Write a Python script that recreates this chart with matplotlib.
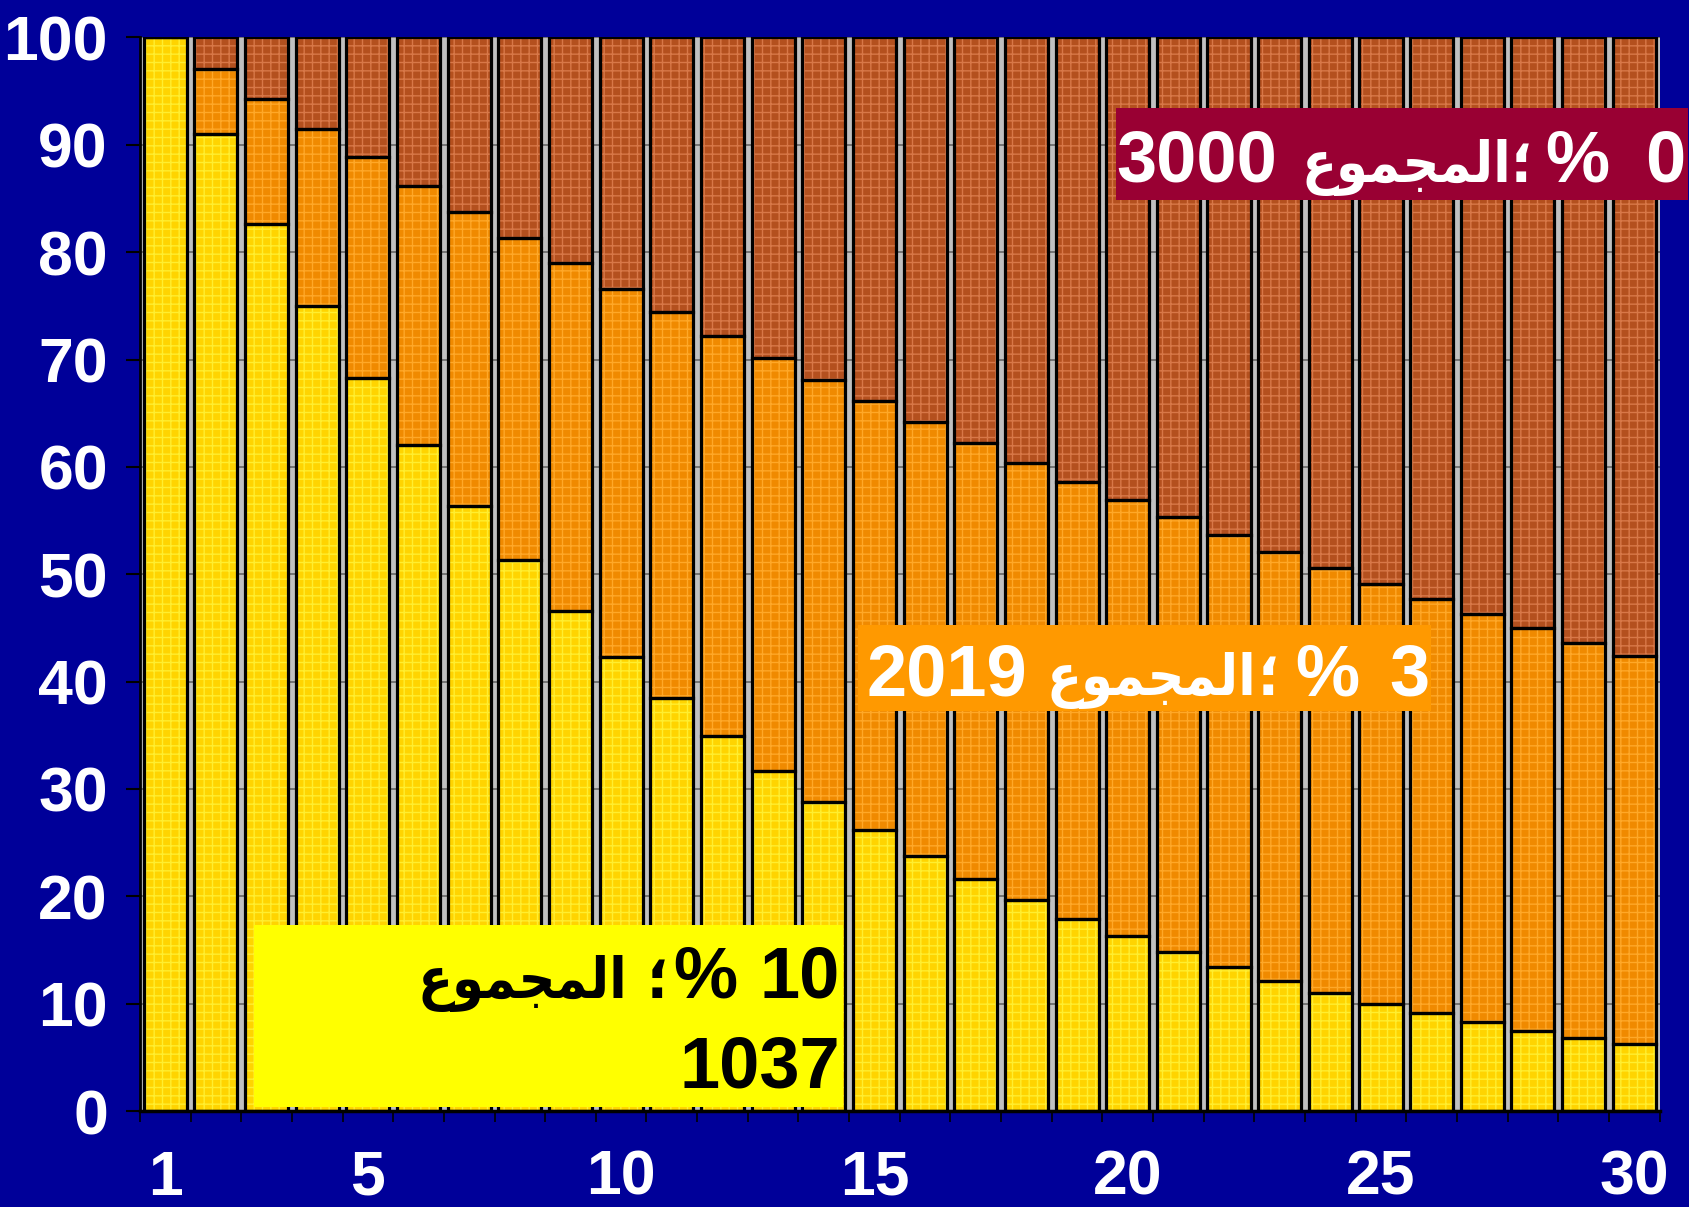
import matplotlib
matplotlib.use("Agg")
import matplotlib.pyplot as plt
from matplotlib.patches import Rectangle
import numpy as np

# ---- data ----
categories = list(range(1, 31))
yellow_top = [100, 91.0, 82.6, 75.0, 68.3, 62.0, 56.4, 51.3, 46.6, 42.3,
              38.5, 34.9, 31.7, 28.8, 26.2, 23.8, 21.6, 19.7, 17.9, 16.3,
              14.8, 13.4, 12.1, 11.0, 10.0, 9.1, 8.3, 7.5, 6.8, 6.2]
orange_top = [100, 97.1, 94.3, 91.5, 88.9, 86.2, 83.7, 81.3, 79.0, 76.6,
              74.4, 72.2, 70.1, 68.1, 66.1, 64.2, 62.2, 60.4, 58.6, 56.9,
              55.3, 53.7, 52.1, 50.6, 49.1, 47.7, 46.3, 45.0, 43.6, 42.4]
total = 100
xtick_labels = [1, 5, 10, 15, 20, 25, 30]
ytick_values = list(range(0, 101, 10))

# Arabic word "المجموع" in presentation forms, visual (left-to-right) order
word = "\uFEC9\uFEEE\uFEE4\uFEA0\uFEE4\uFEDF\uFE8D"
semi = "\u061B"
label_brown = ["3000", word, semi, "%", "0"]
label_orange = ["2019", word, semi, "%", "3"]
label_yellow1 = [word, semi, "%", "10"]
label_yellow2 = ["1037"]

yellow = np.array(yellow_top)
orange = np.array(orange_top) - yellow
brown = total - np.array(orange_top)

BG = "#000099"
FAM = ["Liberation Sans", "DejaVu Sans"]
plt.rcParams["hatch.linewidth"] = 1.0

fig = plt.figure(figsize=(16.9, 12.07), dpi=100, facecolor=BG)
ax = fig.add_axes([0.0828, 0.0795, 0.982 - 0.0828, 0.969 - 0.0795])
ax.set_facecolor("#C0C0C0")

x = np.array(categories)
w = 0.85
series = [
    (yellow, np.zeros(30), "#FFD400", "#FFEE30"),
    (orange, yellow, "#F08A00", "#FFA828"),
    (brown, np.array(orange_top), "#B4501E", "#D87848"),
]
for h, b, fc, hc in series:
    ax.bar(x, h, bottom=b, width=w, color=fc, edgecolor=hc, hatch="++",
           linewidth=0, zorder=2)
    ax.bar(x, h, bottom=b, width=w, fill=False, edgecolor="black",
           linewidth=2.3, zorder=3)

ax.set_xlim(0.5, 30.5)
ax.set_ylim(0, 100)
ax.set_axisbelow(True)
ax.yaxis.grid(True, color="#6E6E6E", linewidth=1.3, zorder=0)

for s in ["top", "right"]:
    ax.spines[s].set_visible(False)
ax.spines["left"].set_color("black")
ax.spines["bottom"].set_color("black")
ax.spines["left"].set_linewidth(2)
ax.spines["bottom"].set_linewidth(2.5)

ax.set_yticks(ytick_values)
ax.set_yticklabels([str(v) for v in ytick_values])
ax.tick_params(axis="y", length=10, width=1.5, color="black", pad=13,
               labelsize=45, labelcolor="white")
ax.set_xticks(xtick_labels)
ax.set_xticklabels([str(v) for v in xtick_labels])
ax.set_xticks(np.arange(0.5, 31, 1), minor=True)
ax.tick_params(axis="x", which="major", length=0, pad=27, labelsize=45,
               labelcolor="white")
ax.tick_params(axis="x", which="minor", length=8, width=1.2, color="black")
for lab in ax.get_xticklabels() + ax.get_yticklabels():
    lab.set_fontfamily(FAM)
    lab.set_fontweight("bold")

W, H = 1690.0, 1207.0

def box(x0, y0, x1, y1, color):
    fig.add_artist(Rectangle((x0 / W, 1 - y1 / H), (x1 - x0) / W, (y1 - y0) / H,
                             transform=fig.transFigure, facecolor=color,
                             edgecolor="none", zorder=5))

def line(pieces, rights, baseline, color):
    # pieces laid out left-to-right (visual order); rights = pixel x of right edges
    for s, r in zip(pieces, rights):
        kw = dict(fontsize=52, family=FAM)
        if s == word:
            kw = dict(fontsize=41, family=["DejaVu Sans"], fontstretch="condensed")
        elif s == semi:
            kw = dict(fontsize=40, family=["DejaVu Sans"])
        fig.text(r / W, 1 - baseline / H, s, ha="right", va="baseline",
                 color=color, fontweight="bold", zorder=6, **kw)

box(1116, 108, 1688, 200, "#990033")
line(label_brown, [1277, 1511, 1533, 1609, 1685], 182, "white")

box(858, 625, 1431, 711, "#FF9900")
line(label_orange, [1027, 1256, 1280, 1359, 1429], 695, "white")

box(254, 925, 843, 1107, "#FFFF00")
line(label_yellow1, [627, 669, 737, 840], 998, "black")
line(label_yellow2, [840], 1087, "black")

fig.savefig("out.png", dpi=100, facecolor=BG)
